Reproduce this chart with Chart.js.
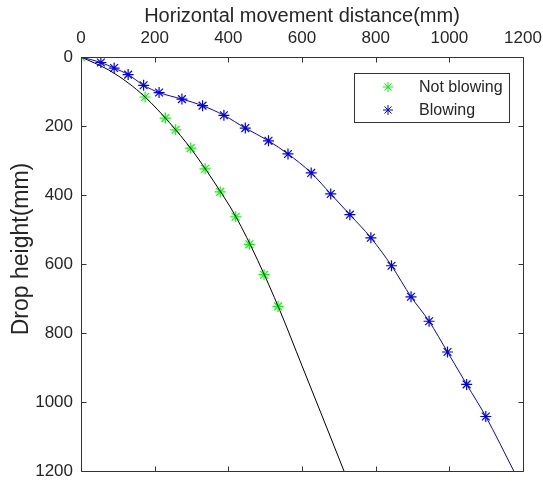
<!DOCTYPE html>
<html>
<head>
<meta charset="utf-8">
<script src="https://cdn.jsdelivr.net/npm/chart.js@4/dist/chart.umd.min.js"></script>
<style>
  html, body { margin: 0; padding: 0; background: #fff; }
  #wrap { width: 543px; height: 482px; }
</style>
</head>
<body>
<div id="wrap"><canvas id="c" width="543" height="482"></canvas></div>
<script>
// ---- data ----
const xTicks = [0, 200, 400, 600, 800, 1000, 1200];
const yTicks = [0, 200, 400, 600, 800, 1000, 1200];
const xTitle = 'Horizontal movement distance(mm)';
const yTitle = 'Drop height(mm)';
const seriesLabels = ['Not blowing', 'Blowing'];

// Not blowing (green markers)
const notBlowingX = [0, 174, 229, 257, 298, 337, 378, 420, 457, 497, 535];
const notBlowingY = [0, 116, 177, 211, 264, 324, 391, 463, 543, 631, 723];

// Blowing (blue markers)
const blowingX = [54, 90, 128, 170, 212, 274, 330, 388, 446, 509, 562, 625, 678, 730, 787, 843, 896, 945, 995, 1047, 1099];
const blowingY = [16, 32, 51, 82, 103, 122, 141, 169, 206, 243, 281, 336, 397, 457, 524, 605, 695, 766, 855, 949, 1042];

// Blue curve through blowing data (from origin to bottom edge)
const blowCurveX = [0, 54, 90, 128, 170, 212, 274, 330, 388, 446, 509, 562, 625, 678, 730, 787, 843, 896, 945, 995, 1047, 1099, 1175];
const blowCurveY = [0, 16, 32, 51, 82, 103, 122, 141, 169, 206, 243, 281, 336, 397, 457, 524, 605, 695, 766, 855, 949, 1042, 1200];

// Black fitted curve for not blowing
const fitCurveX = [0, 74, 128, 174, 240, 300, 360, 420, 480, 540, 600, 660, 714];
const fitCurveY = [0, 37, 75, 116, 190, 268, 360, 462, 590, 735, 895, 1055, 1200];

// ---- build ----
const pts = (xs, ys) => xs.map((x, i) => ({ x: x, y: ys[i] }));
const FONT = "'Liberation Sans', Arial, sans-serif";
const TXT = '#262626';
const AX = '#333333';
const GREEN = '#00ff00';
const BLUE = '#0000ff';

const framePlugin = {
  id: 'frame',
  afterDatasetsDraw(chart) {
    const ctx = chart.ctx, a = chart.chartArea;
    const xs = chart.scales.x, ys = chart.scales.y;
    ctx.save();
    ctx.strokeStyle = AX;
    ctx.lineWidth = 1;
    ctx.beginPath();
    const L = Math.round(a.left) + 0.5, R = Math.round(a.right) + 0.5;
    const T = Math.round(a.top) + 0.5, B = Math.round(a.bottom) + 0.5;
    ctx.rect(L, T, R - L, B - T);
    const tl = 5;
    xTicks.forEach(v => {
      const p = Math.round(xs.getPixelForValue(v)) + 0.5;
      ctx.moveTo(p, T); ctx.lineTo(p, T + tl);
      ctx.moveTo(p, B); ctx.lineTo(p, B - tl);
    });
    yTicks.forEach(v => {
      const p = Math.round(ys.getPixelForValue(v)) + 0.5;
      ctx.moveTo(L, p); ctx.lineTo(L + tl, p);
      ctx.moveTo(R, p); ctx.lineTo(R - tl, p);
    });
    ctx.stroke();

    // y-axis title
    ctx.save();
    ctx.translate(22, 249);
    ctx.rotate(-Math.PI / 2);
    ctx.font = '23px ' + FONT;
    ctx.fillStyle = TXT;
    ctx.textAlign = 'center';
    ctx.textBaseline = 'middle';
    ctx.fillText(yTitle, 0, 0);
    ctx.restore();

    // legend box
    const bx = 354.5, by = 73.5, bw = 155, bh = 49;
    ctx.fillStyle = '#fff';
    ctx.fillRect(bx, by, bw, bh);
    ctx.strokeStyle = AX;
    ctx.strokeRect(bx, by, bw, bh);
    const rows = [
      { label: seriesLabels[0], color: GREEN, y: 87 },
      { label: seriesLabels[1], color: BLUE, y: 110 }
    ];
    ctx.font = '16px ' + FONT;
    ctx.textBaseline = 'middle';
    ctx.textAlign = 'left';
    rows.forEach(r => {
      ctx.strokeStyle = r.color;
      ctx.fillStyle = r.color;
      ctx.lineWidth = 1;
      Chart.helpers.drawPoint(ctx, { pointStyle: 'star', radius: 5, rotation: 0, borderWidth: 1 }, 388, r.y);
      ctx.fillStyle = TXT;
      ctx.fillText(r.label, 419, r.y + 1);
    });
    ctx.restore();
  }
};

new Chart(document.getElementById('c'), {
  type: 'scatter',
  data: {
    datasets: [
      {
        label: 'fit', data: pts(fitCurveX, fitCurveY), showLine: true,
        borderColor: '#000000', borderWidth: 1, pointRadius: 0,
        cubicInterpolationMode: 'monotone', order: 1
      },
      {
        label: seriesLabels[1] + ' curve', data: pts(blowCurveX, blowCurveY), showLine: true,
        borderColor: BLUE, borderWidth: 1, pointRadius: 0,
        cubicInterpolationMode: 'monotone', order: 3
      },
      {
        label: seriesLabels[1], data: pts(blowingX, blowingY), showLine: false,
        pointStyle: 'star', pointRadius: 5.5, borderColor: BLUE, backgroundColor: BLUE,
        pointBorderWidth: 1.2, order: 2
      },
      {
        label: seriesLabels[0], data: pts(notBlowingX, notBlowingY), showLine: false,
        pointStyle: 'star', pointRadius: 5.5, borderColor: GREEN, backgroundColor: GREEN,
        pointBorderWidth: 1.2, order: 4
      }
    ]
  },
  options: {
    responsive: false,
    animation: false,
    devicePixelRatio: 1,
    layout: { padding: { left: 0, right: 20, top: 0, bottom: 11 }, autoPadding: false },
    plugins: { legend: { display: false }, tooltip: { enabled: false } },
    scales: {
      x: {
        type: 'linear', position: 'top', min: 0, max: 1200,
        afterBuildTicks: s => { s.ticks = xTicks.map(v => ({ value: v })); },
        afterFit: s => { s.height = 57; s.paddingLeft = 0; s.paddingRight = 0; },
        grid: { display: false, drawTicks: false }, border: { display: false },
        ticks: { color: TXT, font: { family: FONT, size: 17 }, padding: 8, maxRotation: 0,
                 callback: v => String(v) },
        title: { display: true, text: xTitle, color: TXT, font: { family: FONT, size: 20 }, padding: { top: 4, bottom: 1 } }
      },
      y: {
        type: 'linear', reverse: true, min: 0, max: 1200,
        afterBuildTicks: s => { s.ticks = yTicks.map(v => ({ value: v })); },
        afterFit: s => { s.width = 81; s.paddingTop = 0; s.paddingBottom = 0; },
        grid: { display: false, drawTicks: false }, border: { display: false },
        ticks: { color: TXT, font: { family: FONT, size: 17 }, padding: 8,
                 callback: v => String(v) },
        title: { display: false }
      }
    }
  },
  plugins: [framePlugin]
});
</script>
</body>
</html>
